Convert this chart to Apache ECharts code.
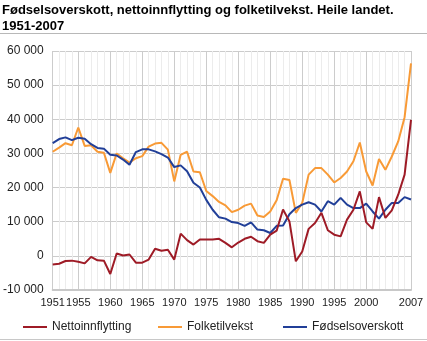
<!DOCTYPE html>
<html>
<head>
<meta charset="utf-8">
<script src="https://cdn.jsdelivr.net/npm/echarts@6/dist/echarts.min.js"></script>
<style>
html,body{margin:0;padding:0;background:#fff;}
#c{width:427px;height:341px;}
</style>
</head>
<body>
<div id="c"></div>
<script>
const years = [];
for (let y = 1951; y <= 2007; y++) years.push(String(y));

const nettoinnflytting = [
  -2500, -2300, -1500, -1400, -1700, -2200, -300, -1300, -1400, -5300,
  700, 100, 400, -2000, -2000, -1100, 2100, 1500, 1800, -1100,
  6500, 4600, 3300, 4800, 4800, 4800, 5000, 3800, 2500, 3900,
  5000, 5600, 4300, 3800, 6200, 7400, 13600, 10100, -1600, 1300,
  7900, 9600, 12600, 7500, 6200, 5700, 10600, 13500, 18900, 9800,
  7900, 17200, 11100, 13300, 17900, 23800, 39800
];
const folketilvekst = [
  30500, 31700, 33000, 32400, 37600, 32200, 32400, 30500, 30200, 24300,
  30000, 28600, 27300, 28600, 29200, 32000, 32900, 33100, 31100, 21800,
  29600, 30500, 24700, 24500, 19000, 17500, 15800, 14800, 12800, 13500,
  14700, 15300, 11800, 11400, 13000, 16300, 22600, 22200, 12600, 15500,
  23800, 25700, 25700, 23800, 21500, 22800, 24700, 27700, 33200, 24700,
  20600, 28400, 25200, 29100, 33500, 40600, 56400
];
const fodselsoverskott = [
  33000, 34200, 34700, 33900, 34600, 34300, 32700, 31600, 31400, 29600,
  29400, 28200, 26700, 30400, 31200, 31200, 30600, 29800, 28800, 26000,
  26500, 24800, 21400, 20000, 16400, 13500, 11300, 10900, 9900, 9600,
  8800, 9800, 7700, 7500, 6700, 8800, 8900, 12200, 14000, 15000,
  15700, 15000, 13000, 16000, 15000, 17000, 15000, 14000, 14000, 15300,
  13000, 10900, 13500, 15500, 15500, 17200, 16500
];
const xTickLabels = ['1951', '1955', '1960', '1965', '1970', '1975', '1980', '1985', '1990', '1995', '2000', '2007'];
const seriesNames = ['Nettoinnflytting', 'Folketilvekst', 'Fødselsoverskott'];
const colors = ['#9e1b26', '#f89a36', '#213f98'];
const titleText = 'Fødselsoverskott, nettoinnflytting og folketilvekst. Heile landet.\n1951-2007';

function isMajor(idx) {
  return xTickLabels.indexOf(years[idx]) >= 0;
}
function fmt(v) {
  const s = String(Math.abs(v));
  const t = s.replace(/\B(?=(\d{3})+(?!\d))/g, ' ');
  return (v < 0 ? '-' : '') + t;
}

const chart = echarts.init(document.getElementById('c'), null, {renderer: 'canvas'});
const font = 'Liberation Sans, Arial, sans-serif';
const legendLefts = [23, 158, 283];

chart.setOption({
  animation: false,
  textStyle: {fontFamily: font},
  title: {
    text: titleText,
    left: 2, top: 2, padding: 0,
    textStyle: {fontSize: 13, fontWeight: 'bold', color: '#000', lineHeight: 16, fontFamily: font}
  },
  graphic: [
    {type: 'line', shape: {x1: 0, y1: 33.5, x2: 427, y2: 33.5}, style: {stroke: '#b8b8b8', lineWidth: 1}},
    {type: 'line', shape: {x1: 0, y1: 339.5, x2: 427, y2: 339.5}, style: {stroke: '#c8c8c8', lineWidth: 1}}
  ],
  legend: seriesNames.map((n, i) => ({
    data: [n],
    left: legendLefts[i], top: 321, padding: 0,
    icon: 'rect', itemWidth: 24, itemHeight: 2,
    textStyle: {fontSize: 12, color: '#222', fontFamily: font}
  })),
  grid: {left: 52, right: 16, top: 51, bottom: 51},
  xAxis: [
    {
      type: 'category', data: years, boundaryGap: false,
      axisLine: {show: false}, axisTick: {show: false},
      axisLabel: {
        interval: 0, margin: 7,
        formatter: (v) => (xTickLabels.indexOf(v) >= 0 ? v : ''),
        fontSize: 11, color: '#222', fontFamily: font
      },
      splitLine: {show: true, interval: 0, lineStyle: {color: '#ececec', width: 1}}
    },
    {
      type: 'category', data: years, boundaryGap: false, position: 'bottom',
      axisLine: {show: true, onZero: true, lineStyle: {color: '#c8c8c8', width: 2}},
      axisTick: {show: false}, axisLabel: {show: false},
      splitLine: {show: true, interval: (i) => isMajor(i), lineStyle: {color: '#cccccc', width: 1}}
    }
  ],
  yAxis: {
    type: 'value', min: -10000, max: 60000, interval: 10000,
    axisLine: {show: false}, axisTick: {show: false},
    axisLabel: {formatter: fmt, margin: 9, fontSize: 12, color: '#222', fontFamily: font},
    splitLine: {lineStyle: {color: '#cccccc', width: 1}}
  },
  series: [nettoinnflytting, folketilvekst, fodselsoverskott].map((d, i) => ({
    name: seriesNames[i], type: 'line', data: d,
    showSymbol: false, symbol: 'none',
    lineStyle: {color: colors[i], width: 2},
    itemStyle: {color: colors[i]},
    z: i === 0 ? 4 : (i === 2 ? 3 : 2)
  }))
});
</script>
</body>
</html>
